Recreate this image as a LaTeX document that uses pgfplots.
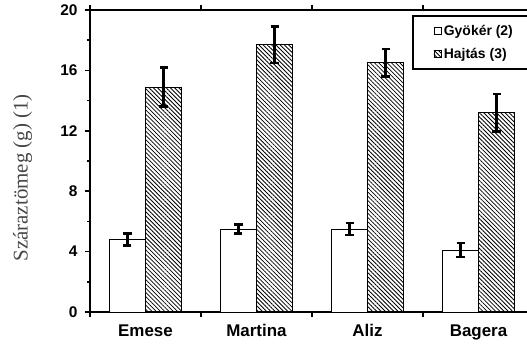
\documentclass[border=0pt]{standalone}
\usepackage{pgfplots}
\pgfplotsset{compat=1.18}
\usepackage{pgfplotstable}
\usepackage{fontspec}
\setmainfont{Liberation Sans}
\newfontfamily\labelserif{Liberation Serif}
\usetikzlibrary{patterns.meta}

% dry mass per cultivar: mean and error
\pgfplotstableread{
idx val err
0 4.8 0.4
1 5.5 0.3
2 5.5 0.4
3 4.1 0.45
}\gyoker
\pgfplotstableread{
idx val err
0 14.9 1.3
1 17.7 1.2
2 16.5 0.9
3 13.2 1.25
}\hajtas

\begin{document}
\begin{tikzpicture}
\useasboundingbox (0bp,0bp) rectangle (527bp,346bp);
\clip (0bp,0bp) rectangle (527bp,346bp);
\begin{axis}[
  at={(90bp,34bp)}, anchor=south west,
  scale only axis, width=444bp, height=302bp,
  xmin=-0.5, xmax=3.5, ymin=0, ymax=20,
  ybar=0pt, bar width=36bp,
  axis line style={line width=2.2bp},
  ytick={0,4,...,20}, minor ytick={2,6,...,18},
  tick align=outside,
  major tick length=5bp, minor tick length=3bp,
  tick style={line width=1.6bp, black},
  xtick={-0.5,0.5,1.5,2.5}, xticklabels={},
  extra x ticks={0,1,2,3},
  extra x tick labels={Emese,Martina,Aliz,Bagera},
  extra x tick style={major tick length=0pt,
    tick label style={font=\bfseries\fontsize{17}{19}\selectfont, yshift=-9bp}},
  yticklabel style={font=\bfseries\fontsize{15.5}{17}\selectfont, xshift=-4bp},
  /pgf/number format/assume math mode=true,
  ylabel={Száraztömeg (g) (1)},
  ylabel style={at={(axis description cs:-0.152,0.444)}, anchor=center,
    font=\labelserif\fontsize{21}{24}\selectfont, text=black!72},
  legend style={at={(axis description cs:0.725,0.983)}, anchor=north west,
    draw=black, line width=2bp, row sep=7bp, inner ysep=7bp,
    font=\bfseries\fontsize{14}{16}\selectfont},
  legend cell align=left,
  legend image code/.code={%
    \path[draw=none, fill=none] (0bp,0bp) -- (26bp,0bp);
    \draw[#1, line width=0.7bp] (18bp,-3.5bp) rectangle (25bp,3.5bp);},
]
\addplot[fill=white, draw=black, line width=0.8bp,
  error bars/.cd, y dir=both, y explicit,
  error bar style={line width=2.4bp, black},
  error mark options={rotate=90, mark size=4bp, line width=2.4bp, black}]
  table[x=idx, y=val, y error=err]{\gyoker};
\addplot[pattern={Lines[angle=-45,distance=3bp,line width=0.8bp]}, draw=black, line width=0.8bp,
  error bars/.cd, y dir=both, y explicit,
  error bar style={line width=2.4bp, black},
  error mark options={rotate=90, mark size=4bp, line width=2.4bp, black}]
  table[x=idx, y=val, y error=err]{\hajtas};
\legend{\makebox[95bp][l]{Gyökér (2)}, \makebox[95bp][l]{Hajtás (3)}}
\end{axis}
\end{tikzpicture}
\end{document}
